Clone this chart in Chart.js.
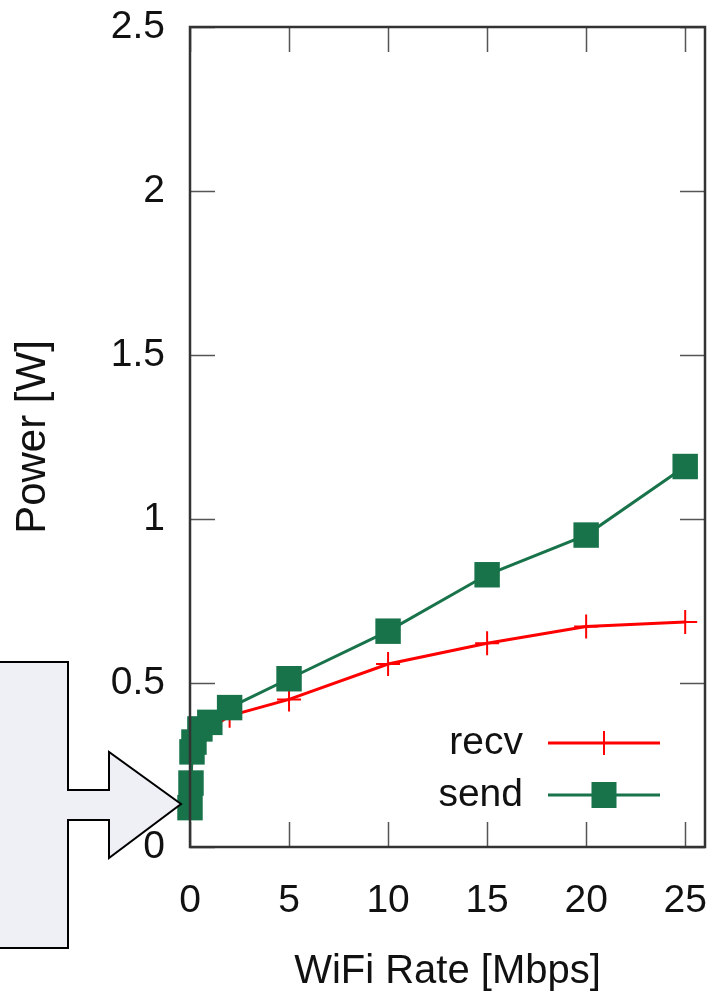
<!DOCTYPE html>
<html>
<head>
<meta charset="utf-8">
<script src="https://cdn.jsdelivr.net/npm/chart.js@4.4.1/dist/chart.umd.min.js"></script>
<style>
  body { margin: 0; background: #fff; }
  canvas { display: block; }
</style>
</head>
<body>
<canvas id="powerChart" width="709" height="1000"></canvas>
<script>
// WiFi rate (Mbps) vs power (W)
const recvRate = [0, 0.05, 0.1, 0.2, 0.5, 1, 2, 5, 10, 15, 20, 25];
const recvPower = [0.12, 0.19, 0.28, 0.31, 0.34, 0.36, 0.40, 0.45, 0.558, 0.621, 0.672, 0.686];
const sendRate = [0, 0.05, 0.1, 0.2, 0.5, 1, 2, 5, 10, 15, 20, 25];
const sendPower = [0.12, 0.195, 0.29, 0.32, 0.36, 0.38, 0.425, 0.513, 0.658, 0.83, 0.951, 1.16];
const xTicks = [0, 5, 10, 15, 20, 25];
const yTicks = [0, 0.5, 1, 1.5, 2, 2.5];
const yTickLabels = ["0", "0.5", "1", "1.5", "2", "2.5"];

const RED = "#ff0000";
const GREEN = "#18734a";
const FAMILY = "'Liberation Sans', Arial, sans-serif";
const TICK_FONT = { family: FAMILY, size: 39 };

function toPoints(xs, ys) {
  return xs.map((x, i) => ({ x, y: ys[i] }));
}

// gnuplot style frame: border box, inward ticks on all sides
const framePlugin = {
  id: "frame",
  afterDatasetsDraw(chart) {
    const { ctx, chartArea: a, scales } = chart;
    const tick = 25;
    ctx.save();
    ctx.strokeStyle = "#555";
    ctx.lineWidth = 1.5;
    ctx.beginPath();
    xTicks.forEach((v) => {
      const px = Math.round(scales.x.getPixelForValue(v)) + 0.5;
      ctx.moveTo(px, a.bottom);
      ctx.lineTo(px, a.bottom - tick);
      ctx.moveTo(px, a.top);
      ctx.lineTo(px, a.top + tick);
    });
    yTicks.forEach((v) => {
      const py = Math.round(scales.y.getPixelForValue(v)) + 0.5;
      ctx.moveTo(a.left, py);
      ctx.lineTo(a.left + tick, py);
      ctx.moveTo(a.right, py);
      ctx.lineTo(a.right - tick, py);
    });
    ctx.stroke();

    ctx.strokeStyle = "#333";
    ctx.lineWidth = 2.5;
    ctx.strokeRect(a.left, a.top, a.right - a.left, a.bottom - a.top);

    // legend, gnuplot layout: label then sample
    const lx1 = 548, lx2 = 660, lc = 604;
    const rows = [
      { label: "recv", y: 743, color: RED },
      { label: "send", y: 795, color: GREEN },
    ];
    ctx.font = `${TICK_FONT.size}px ${FAMILY}`;
    ctx.textAlign = "right";
    ctx.textBaseline = "middle";
    rows.forEach((r, i) => {
      ctx.fillStyle = "#111";
      ctx.fillText(r.label, 523, r.y);
      ctx.strokeStyle = r.color;
      ctx.lineWidth = 3;
      ctx.beginPath();
      ctx.moveTo(lx1, r.y);
      ctx.lineTo(lx2, r.y);
      ctx.stroke();
      if (i === 0) {
        ctx.lineWidth = 2;
        ctx.beginPath();
        ctx.moveTo(lc, r.y - 12);
        ctx.lineTo(lc, r.y + 12);
        ctx.stroke();
      } else {
        ctx.fillStyle = r.color;
        ctx.fillRect(lc - 12.5, r.y - 13, 25, 26);
      }
    });

    // callout arrow on the left
    ctx.beginPath();
    ctx.moveTo(-5, 662);
    ctx.lineTo(68, 662);
    ctx.lineTo(68, 790);
    ctx.lineTo(109, 790);
    ctx.lineTo(109, 752);
    ctx.lineTo(181, 804);
    ctx.lineTo(109, 858);
    ctx.lineTo(109, 820);
    ctx.lineTo(68, 820);
    ctx.lineTo(68, 948);
    ctx.lineTo(-5, 948);
    ctx.closePath();
    ctx.fillStyle = "#eef0f5";
    ctx.fill();
    ctx.strokeStyle = "#000";
    ctx.lineWidth = 2;
    ctx.stroke();
    ctx.restore();
  },
};

new Chart(document.getElementById("powerChart"), {
  type: "line",
  plugins: [framePlugin],
  data: {
    datasets: [
      {
        label: "recv",
        data: toPoints(recvRate, recvPower),
        borderColor: RED,
        backgroundColor: RED,
        borderWidth: 3,
        pointStyle: "cross",
        pointRadius: 12,
        pointBorderWidth: 2,
        clip: false,
        order: 1,
      },
      {
        label: "send",
        data: toPoints(sendRate, sendPower),
        borderColor: GREEN,
        backgroundColor: GREEN,
        borderWidth: 3,
        pointStyle: "rect",
        pointRadius: 18,
        pointBorderWidth: 0,
        clip: false,
        order: 0,
      },
    ],
  },
  options: {
    responsive: false,
    animation: false,
    layout: { autoPadding: false, padding: { top: 27, right: 4, left: 0, bottom: 0 } },
    plugins: {
      legend: { display: false },
      tooltip: { enabled: false },
    },
    scales: {
      x: {
        type: "linear",
        min: 0,
        max: 26,
        afterBuildTicks: (s) => {
          s.ticks = xTicks.map((v) => ({ value: v }));
        },
        afterFit: (s) => {
          s.height = 153;
          s.paddingLeft = 0;
          s.paddingRight = 0;
        },
        grid: { display: false },
        border: { display: false },
        ticks: { font: TICK_FONT, color: "#111", padding: 23, maxRotation: 0 },
        title: {
          display: true,
          text: "WiFi Rate [Mbps]",
          font: { family: FAMILY, size: 40 },
          color: "#111",
          padding: { top: 0, bottom: 4 },
        },
      },
      y: {
        type: "linear",
        min: 0,
        max: 2.5,
        afterBuildTicks: (s) => {
          s.ticks = yTicks.map((v) => ({ value: v }));
        },
        afterFit: (s) => {
          s.width = 190;
          s.paddingTop = 0;
          s.paddingBottom = 0;
        },
        grid: { display: false },
        border: { display: false },
        ticks: {
          font: TICK_FONT,
          color: "#111",
          padding: 17,
          callback: (v, i) => yTickLabels[i],
        },
        title: {
          display: true,
          text: "Power [W]",
          font: { family: FAMILY, size: 42 },
          color: "#111",
          padding: { top: 8, bottom: 0 },
        },
      },
    },
  },
});
</script>
</body>
</html>
